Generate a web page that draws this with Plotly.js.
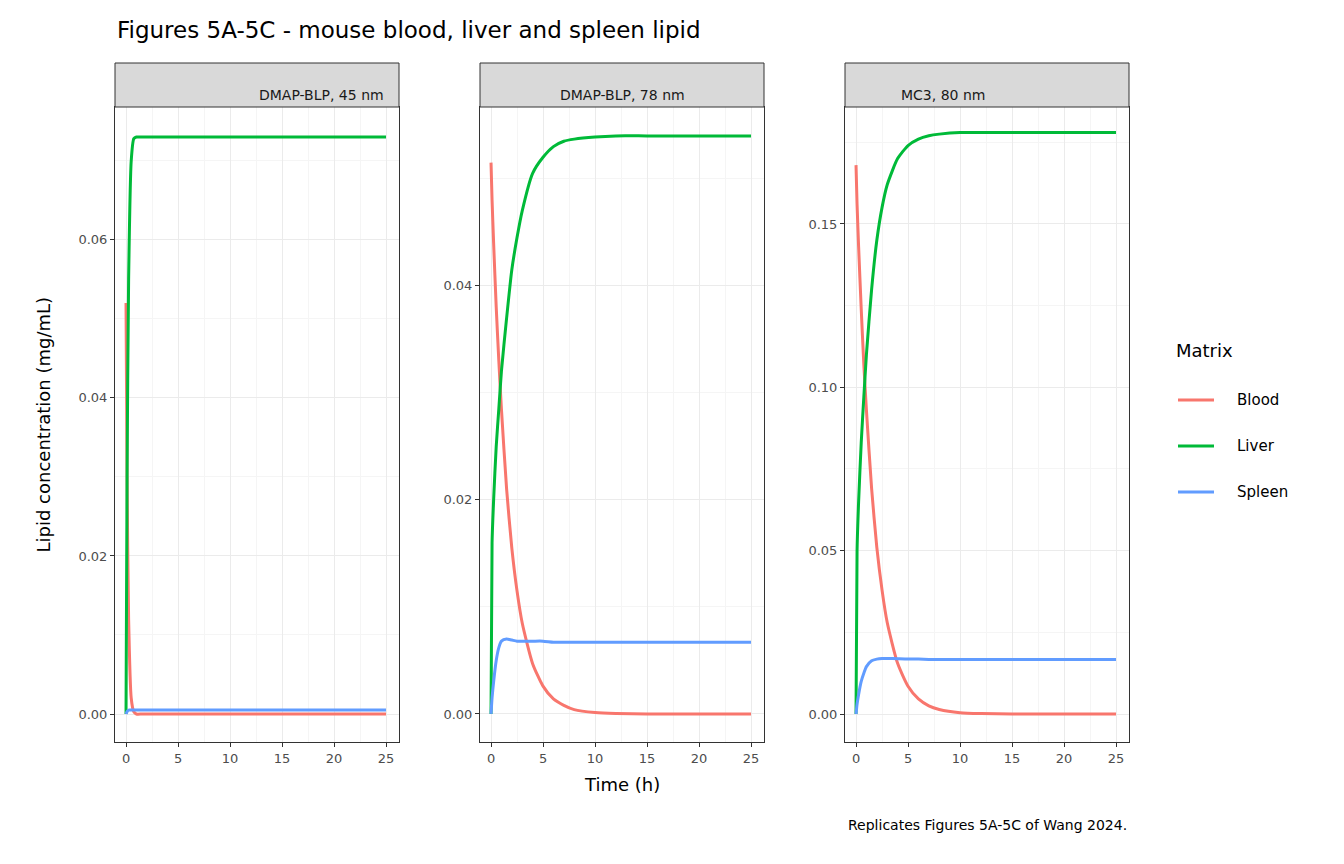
<!DOCTYPE html>
<html>
<head>
<meta charset="utf-8">
<script src="https://cdn.plot.ly/plotly-3.0.1.min.js"></script>
<style>body{margin:0;background:#fff}#plot{width:1344px;height:864px}</style>
</head>
<body>
<div id="plot"></div>
<script>
const W = 1344, H = 864;
const panels = ["DMAP-BLP, 45 nm", "DMAP-BLP, 78 nm", "MC3, 80 nm"];
const matrices = ["Blood", "Liver", "Spleen"];
const colors = ["#F8766D", "#00BA38", "#619CFF"];

// time grid (h)
const time = [0, 0.1, 0.25, 0.5, 0.75, 1, 1.5, 2, 2.5, 3, 4, 5, 6, 7, 8, 10, 12, 15, 20, 25];

// panel A
const bloodA  = [0.052, 0.030, 0.012, 0.002, 0.0003, 0, 0, 0, 0, 0, 0, 0, 0, 0, 0, 0, 0, 0, 0, 0];
const liverA  = [0, 0.030, 0.055, 0.070, 0.0728, 0.073, 0.073, 0.073, 0.073, 0.073, 0.073, 0.073, 0.073, 0.073, 0.073, 0.073, 0.073, 0.073, 0.073, 0.073];
const spleenA = [0, 0.0003, 0.0005, 0.0005, 0.0005, 0.0005, 0.0005, 0.0005, 0.0005, 0.0005, 0.0005, 0.0005, 0.0005, 0.0005, 0.0005, 0.0005, 0.0005, 0.0005, 0.0005, 0.0005];
// panel B
const bloodB  = [0.0515, 0.048, 0.044, 0.038, 0.033, 0.0285, 0.021, 0.0155, 0.0115, 0.0085, 0.0047, 0.0026, 0.0014, 0.0008, 0.0004, 0.00013, 0.00004, 0, 0, 0];
const liverB  = [0, 0.016, 0.020, 0.025, 0.0285, 0.032, 0.037, 0.0415, 0.0445, 0.047, 0.0505, 0.052, 0.053, 0.0535, 0.0537, 0.0539, 0.054, 0.054, 0.054, 0.054];
const spleenB = [0, 0.0015, 0.003, 0.005, 0.0062, 0.0068, 0.0070, 0.0069, 0.0068, 0.0068, 0.0068, 0.0068, 0.0067, 0.0067, 0.0067, 0.0067, 0.0067, 0.0067, 0.0067, 0.0067];
// panel C
const bloodC  = [0.168, 0.156, 0.143, 0.124, 0.107, 0.093, 0.069, 0.051, 0.038, 0.028, 0.0155, 0.0085, 0.0046, 0.0025, 0.0014, 0.0004, 0.00012, 0, 0, 0];
const liverC  = [0, 0.050, 0.065, 0.083, 0.097, 0.110, 0.130, 0.145, 0.155, 0.162, 0.170, 0.174, 0.176, 0.177, 0.1775, 0.178, 0.178, 0.178, 0.178, 0.178];
const spleenC = [0, 0.003, 0.006, 0.010, 0.0125, 0.0145, 0.0163, 0.0168, 0.0170, 0.0170, 0.0169, 0.0168, 0.0168, 0.0167, 0.0167, 0.0167, 0.0167, 0.0167, 0.0167, 0.0167];

const series = [[bloodA, liverA, spleenA], [bloodB, liverB, spleenB], [bloodC, liverC, spleenC]];
const yRanges = [[-0.00354, 0.0768], [-0.00262, 0.0567], [-0.00857, 0.1858]];
const yTicks = [[0, 0.02, 0.04, 0.06], [0, 0.02, 0.04], [0, 0.05, 0.10, 0.15]];
const yTickText = [["0.00", "0.02", "0.04", "0.06"], ["0.00", "0.02", "0.04"], ["0.00", "0.05", "0.10", "0.15"]];
const yMinor = [0.01, 0.01, 0.025];
const xLeft = [115, 480, 845], pw = 284, panelTop = 107, panelBottom = 742, stripTop = 63;

const traces = [];
const layout = {
  width: W, height: H, margin: {l: 0, r: 0, t: 0, b: 0},
  paper_bgcolor: "#fff", plot_bgcolor: "#fff", showlegend: false,
  font: {family: "DejaVu Sans", color: "#000"},
  shapes: [], annotations: []
};

panels.forEach((p, i) => {
  const xa = i === 0 ? "x" : "x" + (i + 1), ya = i === 0 ? "y" : "y" + (i + 1);
  series[i].forEach((vals, k) => {
    traces.push({x: time, y: vals, xaxis: xa, yaxis: ya, type: "scatter", mode: "lines",
      name: matrices[k], line: {color: colors[k], width: 3, shape: "spline", smoothing: 0.6}});
  });
  const key = i === 0 ? "" : i + 1;
  layout["xaxis" + key] = {
    domain: [xLeft[i] / W, (xLeft[i] + pw) / W], range: [-1.06, 26.25], anchor: ya,
    tickvals: [0, 5, 10, 15, 20, 25], ticks: "outside", ticklen: 4, tickcolor: "#333",
    tickfont: {size: 13, color: "#4D4D4D"}, showgrid: true, gridcolor: "#EBEBEB", gridwidth: 1.2,
    minor: {dtick: 2.5, tick0: 2.5, showgrid: true, gridcolor: "#F5F5F5", gridwidth: 0.6},
    zeroline: false, showline: true, linecolor: "#333", mirror: true, linewidth: 1
  };
  layout["yaxis" + key] = {
    domain: [(H - panelBottom) / H, (H - panelTop) / H], range: yRanges[i], anchor: xa,
    tickvals: yTicks[i], ticktext: yTickText[i], ticks: "outside", ticklen: 4, tickcolor: "#333",
    tickfont: {size: 13, color: "#4D4D4D"}, showgrid: true, gridcolor: "#EBEBEB", gridwidth: 1.2,
    minor: {dtick: yMinor[i] * 2, tick0: yMinor[i], showgrid: true, gridcolor: "#F5F5F5", gridwidth: 0.6},
    zeroline: false, showline: true, linecolor: "#333", mirror: true, linewidth: 1
  };
  layout.shapes.push({type: "rect", xref: "paper", yref: "paper",
    x0: xLeft[i] / W, x1: (xLeft[i] + pw) / W, y0: (H - panelTop) / H, y1: (H - stripTop) / H,
    fillcolor: "#D9D9D9", line: {color: "#333", width: 1}});
  layout.annotations.push({text: p, xref: "paper", yref: "paper", showarrow: false,
    x: (xLeft[i] + pw / 2) / W, y: (H - (panelTop + stripTop) / 2) / H, font: {size: 14, color: "#1A1A1A"}});
});

// titles and caption
layout.annotations.push(
  {text: "Figures 5A-5C - mouse blood, liver and spleen lipid", xref: "paper", yref: "paper", showarrow: false,
   x: 115 / W, y: 1 - 30 / H, xanchor: "left", yanchor: "middle", font: {size: 23}},
  {text: "Time (h)", xref: "paper", yref: "paper", showarrow: false,
   x: 622 / W, y: 1 - 797 / H, font: {size: 18}},
  {text: "Lipid concentration (mg/mL)", xref: "paper", yref: "paper", showarrow: false, textangle: -90,
   x: 30 / W, y: 1 - 425 / H, font: {size: 18}},
  {text: "Replicates Figures 5A-5C of Wang 2024.", xref: "paper", yref: "paper", showarrow: false,
   x: 1129 / W, y: 1 - 835 / H, xanchor: "right", font: {size: 14}},
  {text: "Matrix", xref: "paper", yref: "paper", showarrow: false,
   x: 1174 / W, y: 1 - 350 / H, xanchor: "left", font: {size: 18}}
);
// legend keys
matrices.forEach((m, k) => {
  const yy = 400 + k * 46;
  layout.shapes.push({type: "line", xref: "paper", yref: "paper",
    x0: 1178 / W, x1: 1214 / W, y0: 1 - yy / H, y1: 1 - yy / H, line: {color: colors[k], width: 3}});
  layout.annotations.push({text: m, xref: "paper", yref: "paper", showarrow: false,
    x: 1235 / W, y: 1 - yy / H, xanchor: "left", font: {size: 15}});
});

Plotly.newPlot("plot", traces, layout, {displayModeBar: false});
</script>
</body>
</html>
